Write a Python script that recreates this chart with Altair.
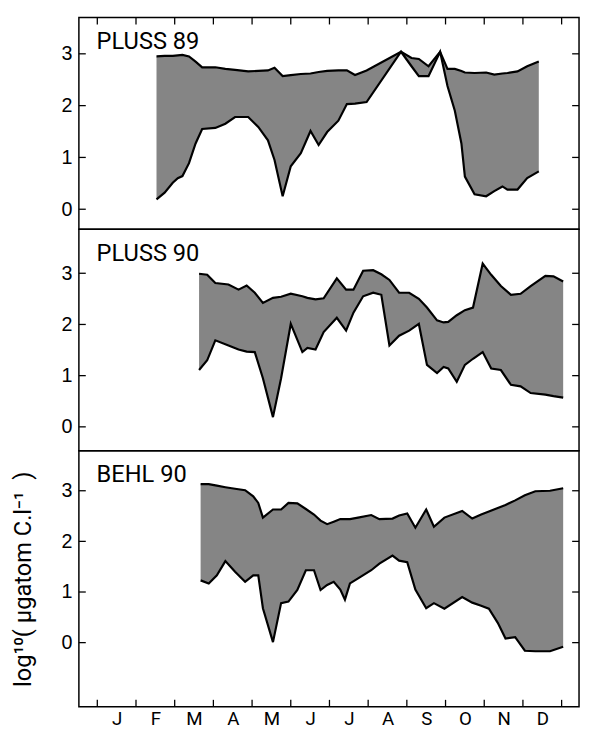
import altair as alt
import pandas as pd

months = ['J', 'F', 'M', 'A', 'M', 'J', 'J', 'A', 'S', 'O', 'N', 'D']
month_bounds = list(range(13))
y_ticks = [0, 1, 2, 3]

# PLUSS 89
p89_x = [1.53, 1.74, 1.95, 2.08, 2.20, 2.37, 2.54, 2.71, 3.05, 3.31, 3.56, 3.90, 4.16, 4.41, 4.58,
         4.79, 5.00, 5.26, 5.51, 5.72, 5.94, 6.23, 6.45, 6.66, 6.96, 7.85, 8.12, 8.31, 8.56, 8.86,
         9.05, 9.24, 9.41, 9.50, 9.75, 10.05, 10.26, 10.47, 10.60, 10.86, 11.11, 11.41]
p89_hi = [2.95, 2.96, 2.96, 2.97, 2.98, 2.95, 2.85, 2.74, 2.74, 2.71, 2.69, 2.66, 2.67, 2.68, 2.73,
          2.57, 2.59, 2.61, 2.62, 2.65, 2.67, 2.68, 2.68, 2.59, 2.68, 3.04, 2.92, 2.90, 2.76, 3.04,
          2.71, 2.71, 2.67, 2.64, 2.63, 2.64, 2.60, 2.62, 2.63, 2.66, 2.76, 2.85]
p89_lo = [0.19, 0.32, 0.51, 0.60, 0.64, 0.89, 1.27, 1.55, 1.57, 1.65, 1.78, 1.78, 1.59, 1.33, 0.95,
          0.25, 0.83, 1.08, 1.51, 1.24, 1.49, 1.71, 2.03, 2.04, 2.07, 3.04, 2.76, 2.57, 2.57, 3.04,
          2.38, 1.90, 1.27, 0.63, 0.29, 0.25, 0.35, 0.44, 0.38, 0.38, 0.60, 0.73]

# PLUSS 90
p90_x = [2.63, 2.84, 3.05, 3.39, 3.65, 3.86, 4.07, 4.28, 4.54, 4.75, 5.00, 5.30, 5.43, 5.64, 5.85,
         6.19, 6.43, 6.62, 6.87, 7.13, 7.34, 7.55, 7.80, 8.06, 8.31, 8.52, 8.78, 8.95, 9.07, 9.29,
         9.50, 9.71, 9.96, 10.18, 10.43, 10.69, 10.94, 11.20, 11.58, 11.79, 12.04]
p90_hi = [2.99, 2.97, 2.81, 2.78, 2.68, 2.76, 2.62, 2.42, 2.52, 2.54, 2.60, 2.55, 2.52, 2.49, 2.51,
          2.90, 2.68, 2.68, 3.05, 3.06, 2.98, 2.87, 2.62, 2.62, 2.50, 2.33, 2.08, 2.04, 2.05, 2.18,
          2.28, 2.33, 3.19, 2.97, 2.75, 2.58, 2.60, 2.75, 2.95, 2.94, 2.84]
p90_lo = [1.11, 1.30, 1.69, 1.59, 1.51, 1.47, 1.46, 0.95, 0.19, 0.95, 2.01, 1.46, 1.54, 1.51, 1.85,
          2.13, 1.88, 2.23, 2.55, 2.62, 2.58, 1.59, 1.78, 1.88, 2.01, 1.21, 1.05, 1.17, 1.14, 0.88,
          1.21, 1.33, 1.46, 1.14, 1.11, 0.82, 0.79, 0.66, 0.63, 0.60, 0.57]

# BEHL 90
b90_x = [2.67, 2.88, 3.09, 3.31, 3.56, 3.82, 4.03, 4.16, 4.28, 4.54, 4.75, 4.94, 5.17, 5.39, 5.60,
         5.77, 5.94, 6.11, 6.28, 6.40, 6.53, 6.74, 7.08, 7.29, 7.63, 7.80, 8.01, 8.22, 8.50, 8.70,
         8.97, 9.43, 9.69, 9.92, 10.12, 10.35, 10.55, 10.80, 11.05, 11.32, 11.70, 12.04]
b90_hi = [3.13, 3.13, 3.10, 3.07, 3.04, 3.01, 2.89, 2.76, 2.47, 2.63, 2.63, 2.76, 2.75, 2.64, 2.53,
          2.41, 2.34, 2.39, 2.44, 2.44, 2.44, 2.47, 2.52, 2.44, 2.45, 2.51, 2.55, 2.27, 2.63, 2.29,
          2.47, 2.60, 2.45, 2.53, 2.59, 2.66, 2.72, 2.81, 2.91, 2.99, 3.00, 3.05]
b90_lo = [1.23, 1.17, 1.33, 1.61, 1.40, 1.20, 1.33, 1.33, 0.68, 0.01, 0.78, 0.81, 1.04, 1.43, 1.43,
          1.04, 1.14, 1.20, 1.05, 0.85, 1.17, 1.27, 1.43, 1.56, 1.72, 1.62, 1.59, 1.05, 0.68, 0.78,
          0.67, 0.90, 0.79, 0.73, 0.67, 0.39, 0.08, 0.11, -0.16, -0.17, -0.17, -0.08]

W = 508
FILL = '#858585'
TICK = 7
XDOM = [-0.476, 12.45]
YTITLE = 'log¹⁰(\u00a0μgatom\u00a0C.l⁻¹\u00a0\u00a0)'
label_expr = str(months) + '[floor(datum.value)]'


def panel(name, xs, hi, lo, h, dom, top_ticks, bottom):
    df = pd.DataFrame({'m': xs, 'hi': hi, 'lo': lo})
    xsc = alt.Scale(domain=XDOM, nice=False, zero=False)
    ysc = alt.Scale(domain=dom, nice=False, zero=False)
    if bottom:
        xax = alt.Axis(values=[i + 0.5 for i in range(12)], labelExpr=label_expr, title=None,
                       labelFont='Roboto', labelFontSize=19, labelColor='black', labelPadding=3,
                       ticks=False, domain=False, grid=False)
        yax = alt.Axis(values=y_ticks, title=YTITLE, titleFont='Roboto', titleFontSize=24,
                       titleFontWeight='normal', titleColor='black', titlePadding=26,
                       labelFont='Liberation Sans', labelFontSize=20, labelColor='black',
                       labelPadding=7, ticks=False, domain=False, grid=False)
    else:
        xax = None
        yax = alt.Axis(values=y_ticks, title=None,
                       labelFont='Liberation Sans', labelFontSize=20, labelColor='black',
                       labelPadding=7, ticks=False, domain=False, grid=False)
    X = alt.X('m:Q', scale=xsc, axis=xax)
    base = alt.Chart(df)
    area = base.mark_area(color=FILL, opacity=1).encode(
        x=X, y=alt.Y('hi:Q', scale=ysc, axis=yax), y2='lo:Q')
    up = base.mark_line(color='black', strokeWidth=2.2).encode(
        x=X, y=alt.Y('hi:Q', scale=ysc, axis=yax))
    low = base.mark_line(color='black', strokeWidth=2.2).encode(
        x=X, y=alt.Y('lo:Q', scale=ysc, axis=yax))
    tdf = pd.DataFrame({'v': y_ticks})
    lt = alt.Chart(tdf).mark_rule(color='black', strokeWidth=1.3).encode(
        y=alt.Y('v:Q', scale=ysc, axis=yax), x=alt.value(0), x2=alt.value(TICK))
    rt = alt.Chart(tdf).mark_rule(color='black', strokeWidth=1.3).encode(
        y=alt.Y('v:Q', scale=ysc, axis=yax), x=alt.value(W - TICK), x2=alt.value(W))
    txt = alt.Chart(pd.DataFrame({'t': [name]})).mark_text(
        align='left', baseline='middle', font='Roboto', fontSize=24, color='black').encode(
        x=alt.value(18), y=alt.value(25), text='t:N')
    layers = [area, up, low, lt, rt, txt]
    bdf = pd.DataFrame({'b': month_bounds})
    if top_ticks:
        layers.append(alt.Chart(bdf).mark_rule(color='black', strokeWidth=1.3).encode(
            x=alt.X('b:Q', scale=xsc, axis=xax), y=alt.value(0), y2=alt.value(TICK)))
    if bottom:
        layers.append(alt.Chart(bdf).mark_rule(color='black', strokeWidth=1.3).encode(
            x=alt.X('b:Q', scale=xsc, axis=xax), y=alt.value(h - TICK), y2=alt.value(h)))
    return alt.layer(*layers).properties(width=W, height=h)


c1 = panel('PLUSS 89', p89_x, p89_hi, p89_lo, 215, [-0.386, 3.70], True, False)
c2 = panel('PLUSS 90', p90_x, p90_hi, p90_lo, 225, [-0.467, 3.86], False, False)
c3 = panel('BEHL 90', b90_x, b90_hi, b90_lo, 260, [-1.266, 3.79], False, True)

chart = alt.vconcat(c1, c2, c3, spacing=0, bounds='flush').properties(
    padding={'left': 3, 'top': 2, 'right': 0, 'bottom': 0}
).configure_view(stroke='black', strokeWidth=1.5)

chart.save('out.html', embed_options={'renderer': 'svg', 'actions': False})
